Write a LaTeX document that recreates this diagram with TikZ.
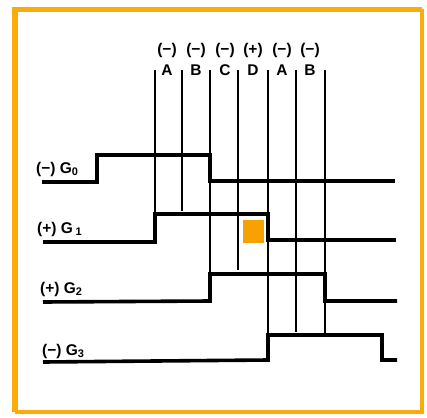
\documentclass[tikz,border=0pt]{standalone}
\usepackage{fontspec}
\setmainfont{Liberation Sans}
\definecolor{frameor}{RGB}{249,172,10}
\definecolor{boxor}{RGB}{247,162,0}
\newcommand{\gsub}[1]{\raisebox{-2.5pt}{\fontsize{11}{11}\selectfont #1}}
\tikzset{
  wave/.style={line width=3.6pt, line join=miter, line cap=butt},
  vline/.style={line width=1.7pt},
  lbl/.style={anchor=base west, inner sep=0pt, font=\bfseries\fontsize{15.5}{16}\selectfont},
  toplbl/.style={inner sep=0pt, font=\bfseries\fontsize{15.5}{16}\selectfont},
}
\begin{document}
\begin{tikzpicture}[x=1pt,y=-1pt]
\useasboundingbox (0,0) rectangle (427,417);
\fill[white] (0,0) rectangle (427,417);
% frame
\draw[frameor, line width=5.5pt] (15,412) -- (15,9.5) -- (422,9.5);
\draw[frameor, line width=3.5pt] (422,9.5) -- (422,412) -- (15,412);
% orange square
\fill[boxor] (243,220) rectangle (264,243);
% top labels
\foreach \x/\s/\l [count=\i] in {167/{(−)}/A,196/{(−)}/B,225/{(−)}/C,253/{(+)}/D,282/{(−)}/A,310/{(−)}/B}{
  \node[toplbl] (s\i) at (\x,50) {\s};
  \node[toplbl, anchor=base] (l\i) at (\x,76) {\l};
}
% vertical lines
\coordinate (t1) at (155,70); \coordinate (b1) at (155,214);
\coordinate (t2) at (182,70); \coordinate (b2) at (182,211);
\coordinate (t3) at (210,70); \coordinate (b3) at (210,274);
\coordinate (t4) at (238,70); \coordinate (b4) at (238,270);
\coordinate (t5) at (268,70); \coordinate (b5) at (268,335);
\coordinate (t6) at (296,70); \coordinate (b6) at (296,332);
\coordinate (t7) at (325,70); \coordinate (b7) at (325,335);
\foreach \i in {1,...,7}{ \draw[vline] (t\i) -- (b\i); }
% waveforms
\draw[wave] (42,182) -- (97,182) -- (97,155) -- (210,155) -- (210,181) -- (395,181);
\draw[wave] (43,242) -- (155,242) -- (155,214) -- (268,214) -- (268,240) -- (396,240);
\draw[wave] (43,302) -- (210,301) -- (210,274) -- (325,274) -- (325,301) -- (397,301);
\draw[wave] (43,362) -- (268,360) -- (268,335) -- (382,335) -- (382,360) -- (397,360);
% signal labels
\node[lbl] (g0) at (36,173) {(−) G\gsub{0}};
\node[lbl] (g1) at (37,233) {(+) G\,\gsub{1}};
\node[lbl] (g2) at (40,293) {(+) G\gsub{2}};
\node[lbl] (g3) at (42,355) {(−) G\gsub{3}};
\end{tikzpicture}
\end{document}
